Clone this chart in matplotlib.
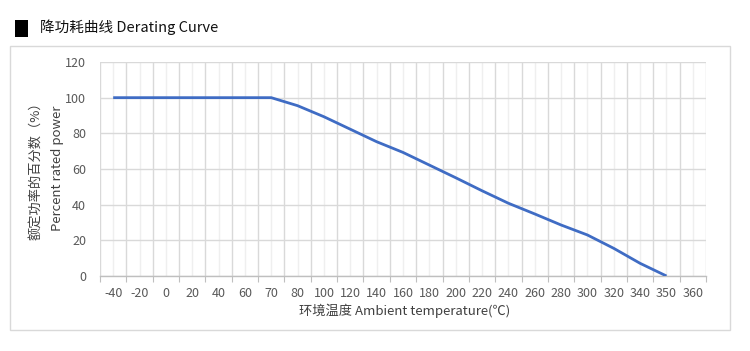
import matplotlib
matplotlib.use("Agg")
import matplotlib.pyplot as plt
import numpy as np
from matplotlib.patches import Rectangle

plt.rcParams['font.family'] = ['Noto Sans CJK SC', 'DejaVu Sans']

categories = ["-40", "-20", "0", "20", "40", "60", "70", "80", "100", "120", "140",
              "160", "180", "200", "220", "240", "260", "280", "300", "320", "340",
              "350", "360"]
power = [100, 100, 100, 100, 100, 100, 100, 95.5, 89.3, 82.3, 75.3, 69.3, 62.2,
         55.1, 47.8, 40.8, 34.8, 28.6, 23, 15.5, 7.1, 0, np.nan]
y_ticks = [0, 20, 40, 60, 80, 100, 120]

W, H = 750, 351
fig = plt.figure(figsize=(W / 100, H / 100), dpi=100)

# outer frame
fig.patches.append(Rectangle((10 / W, 1 - 330 / H), 720 / W, 284 / H,
                             transform=fig.transFigure, fill=False,
                             edgecolor='#D9D9D9', linewidth=1.0))
# title marker and title
fig.patches.append(Rectangle((15 / W, 1 - 37 / H), 13 / W, 17 / H,
                             transform=fig.transFigure, facecolor='black',
                             edgecolor='none'))
fig.text(40 / W, 1 - 27 / H, "降功耗曲线 Derating Curve", fontsize=10.5,
         va='center', ha='left', color='#111111')

ax = fig.add_axes([100 / W, 1 - 276 / H, 606 / W, 214 / H])
x = np.arange(len(categories))
ax.plot(x, power, color='#3F6CC4', linewidth=2.0, solid_capstyle='butt', zorder=3)

ax.set_xlim(-0.5, len(categories) - 0.5)
ax.set_ylim(0, 120)
ax.set_yticks(y_ticks)
ax.set_yticklabels([str(v) for v in y_ticks])

ax.set_xticks(np.arange(-0.5, len(categories), 1.0))
ax.set_xticklabels([])
ax.set_xticks(x, minor=True)
ax.set_xticklabels(categories, minor=True)

ax.tick_params(axis='x', which='major', length=4, color='#BFBFBF', direction='out')
ax.tick_params(axis='x', which='minor', length=0, pad=8, labelsize=9, labelcolor='#595959')
ax.tick_params(axis='y', length=0, pad=10, labelsize=9, labelcolor='#595959')

ax.grid(axis='x', which='major', color='#D9D9D9', linewidth=1.0)
ax.grid(axis='x', which='minor', color='#EFEFEF', linewidth=1.0)
ax.grid(axis='y', which='major', color='#D9D9D9', linewidth=1.0)
ax.set_axisbelow(True)

for s in ['top', 'right', 'left']:
    ax.spines[s].set_visible(False)
ax.spines['bottom'].set_color('#BFBFBF')
ax.spines['bottom'].set_linewidth(1.0)

fig.text(405 / W, 1 - 311 / H, "环境温度 Ambient temperature(℃)", fontsize=9.5,
         ha='center', va='center', color='#404040')
fig.text(37 / W, 1 - 168 / H, "额定功率的百分数（%）", fontsize=9.5, rotation=90,
         ha='center', va='center', color='#404040')
fig.text(57 / W, 1 - 168 / H, "Percent rated power", fontsize=9.5, rotation=90,
         ha='center', va='center', color='#404040')

fig.savefig("out.png", dpi=100)
